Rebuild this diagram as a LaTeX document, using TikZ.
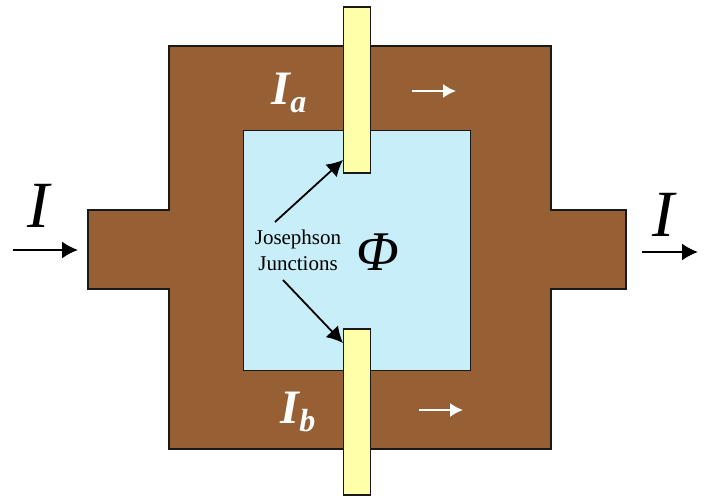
\documentclass[tikz,border=0pt]{standalone}
\usepackage{fontspec}
\setmainfont{Liberation Serif}
\usetikzlibrary{arrows.meta}
\definecolor{ringbrown}{RGB}{150,96,52}
\definecolor{holeblue}{RGB}{200,238,250}
\definecolor{jjyellow}{RGB}{255,255,170}
\begin{document}
\begin{tikzpicture}[x=1pt,y=-1pt,
    conductor/.style={draw=black!90, line width=1.5pt, fill=ringbrown},
    junction/.style={draw=black!90, line width=1.5pt, fill=jjyellow, minimum width=27pt, minimum height=166pt, inner sep=0pt},
    whitearrow/.style={-{Latex[length=13pt,width=14pt]}, white, line width=1.8pt},
    blackarrow/.style={-{Latex[length=16pt,width=17pt]}, black, line width=1.8pt},
    ilabel/.style={white, font=\bfseries\itshape\fontsize{48}{48}\selectfont},
    bigi/.style={font=\itshape\fontsize{66}{66}\selectfont}]
    \useasboundingbox (0,0) rectangle (708,497);

    % Anillo superconductor
    \draw[conductor]
        (169,46) -- (551,46) -- (551,210) -- (626,210) -- (626,289) -- (551,289)
        -- (551,449) -- (169,449) -- (169,289) -- (88,289) -- (88,210) -- (169,210) -- cycle;
    \node[draw=black!90, line width=1.5pt, fill=holeblue, minimum width=227pt, minimum height=240pt, inner sep=0pt] (hole) at (357,250.5) {};

    % Uniones
    \node[junction] (jtop) at (357,90) {};
    \node[junction] (jbot) at (357,412) {};

    % Etiquetas
    \node[ilabel] (ia) at (289,93) {I\raisebox{-8pt}{\fontsize{32}{32}\selectfont a}};
    \node[ilabel] (ib) at (298,412) {I\raisebox{-8pt}{\fontsize{32}{32}\selectfont b}};
    \node[bigi] (iin) at (38,206) {I};
    \node[bigi] (iout) at (663,215) {I};
    \node[font=\itshape\fontsize{56}{56}\selectfont] (phi) at (378,252) {Φ};
    \node[align=center, font=\fontsize{21}{26}\selectfont] (jj) at (298,250) {Josephson\\Junctions};

    % Flechas
    \coordinate (ina) at (13,250);
    \coordinate (inb) at (78,250);
    \coordinate (outa) at (642,252);
    \coordinate (outb) at (698,252);
    \coordinate (upa) at (412,91);
    \coordinate (upb) at (456,91);
    \coordinate (loa) at (419,410);
    \coordinate (lob) at (463,410);
    \coordinate (jja) at (275,222);
    \coordinate (jjb) at (283,280);
    \coordinate (tipa) at (343,160);
    \coordinate (tipb) at (343,343);
    \draw[blackarrow] (ina) -- (inb);
    \draw[blackarrow] (outa) -- (outb);
    \draw[whitearrow] (upa) -- (upb);
    \draw[whitearrow] (loa) -- (lob);
    \draw[blackarrow] (jja) -- (tipa);
    \draw[blackarrow] (jjb) -- (tipb);
\end{tikzpicture}
\end{document}
